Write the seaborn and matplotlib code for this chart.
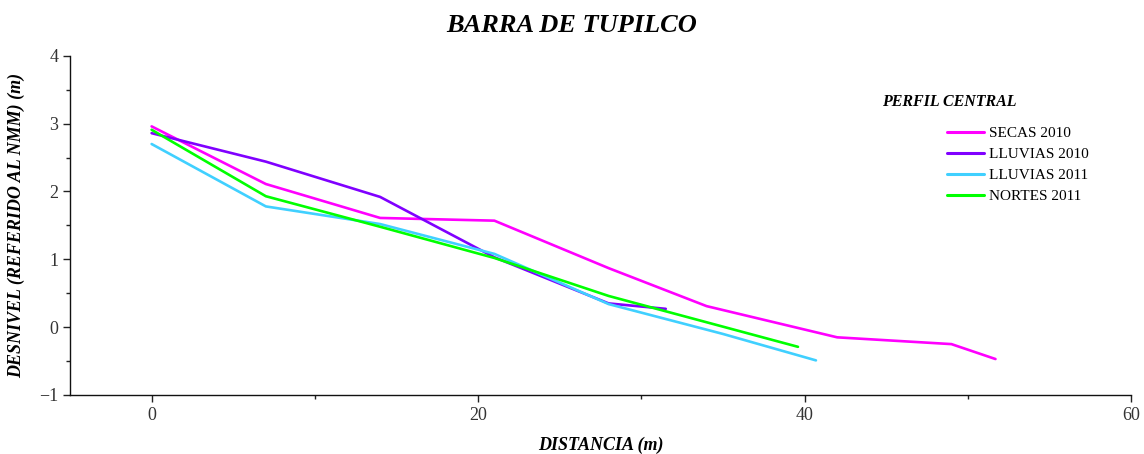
import numpy as np
import pandas as pd
import matplotlib
matplotlib.use("Agg")
import matplotlib.pyplot as plt
import seaborn as sns

#
# data
#

series_names = ["SECAS 2010", "LLUVIAS 2010", "LLUVIAS 2011", "NORTES 2011"]

secas_2010_x = [0, 7, 14, 21, 28, 34, 42, 49, 51.7]
secas_2010_y = [2.96, 2.11, 1.61, 1.57, 0.87, 0.31, -0.15, -0.25, -0.47]

lluvias_2010_x = [0, 7, 14, 21, 28, 31.5]
lluvias_2010_y = [2.86, 2.44, 1.92, 1.03, 0.35, 0.27]

lluvias_2011_x = [0, 7, 14, 21, 28, 35, 40.7]
lluvias_2011_y = [2.70, 1.78, 1.52, 1.08, 0.34, -0.10, -0.49]

nortes_2011_x = [0, 7, 14, 21, 28, 39.6]
nortes_2011_y = [2.91, 1.93, 1.48, 1.02, 0.46, -0.29]

colors = ["#ff00ff", "#8000ff", "#40d0ff", "#00ff00"]

#
#
#

frames = []
for name, xs, ys in zip(series_names,
                        [secas_2010_x, lluvias_2010_x, lluvias_2011_x, nortes_2011_x],
                        [secas_2010_y, lluvias_2010_y, lluvias_2011_y, nortes_2011_y]):
  frames.append(pd.DataFrame({"distancia": xs, "desnivel": ys, "perfil": name}))
df = pd.concat(frames, ignore_index=True)

sns.set_style("ticks")
plt.rcParams['font.family'] = ['Liberation Serif', 'DejaVu Serif']
plt.rcParams['text.color'] = 'black'
plt.rcParams['axes.labelcolor'] = 'black'

fig = plt.figure(figsize=(11.44, 4.54), dpi=100)
ax = fig.add_axes([0.0612, 0.130, 0.9274, 0.747])

sns.lineplot(data=df, x="distancia", y="desnivel", hue="perfil",
             hue_order=series_names, palette=colors, sort=False,
             estimator=None, linewidth=1.9, ax=ax)

ax.set_xlim(-5, 60)
ax.set_ylim(-1, 4)
ax.set_xticks([0, 20, 40, 60])
ax.set_xticks([10, 30, 50], minor=True)
ax.set_yticks([-1, 0, 1, 2, 3, 4])
ax.set_yticks([-0.5, 0.5, 1.5, 2.5, 3.5], minor=True)
ax.tick_params(axis="both", which="major", direction="out", length=5, width=1,
               labelsize=13, colors="#222222", labelcolor="#333333")
ax.tick_params(axis="both", which="minor", direction="out", length=3, width=1, colors="#222222")
for side in ["left", "bottom"]:
  ax.spines[side].set_color("#111111")
  ax.spines[side].set_linewidth(1)
sns.despine(ax=ax)

ax.set_xlabel("DISTANCIA (m)", fontsize=13, fontweight="bold", fontstyle="italic", labelpad=9)
ax.set_ylabel("DESNIVEL (REFERIDO AL NMM) (m)", fontsize=13, fontweight="bold", fontstyle="italic", labelpad=10)
fig.suptitle("BARRA DE TUPILCO", x=0.4995, y=0.97, fontsize=19, fontweight="bold", fontstyle="italic")

# legend title sits left of the entries in the reference, so it is its own text
fig.text(949 / 1144, 1 - 102 / 454, "PERFIL CENTRAL", ha="center", va="center",
         fontsize=11.5, fontweight="bold", fontstyle="italic")

leg = ax.legend(loc="upper left", bbox_to_anchor=(0.827, 0.791),
                frameon=False, fontsize=11, handlelength=2.4, handletextpad=0.3,
                labelspacing=0.47, borderpad=0, borderaxespad=0)
for line in leg.get_lines():
  line.set_linewidth(2.2)

fig.savefig("out.png", dpi=100)
